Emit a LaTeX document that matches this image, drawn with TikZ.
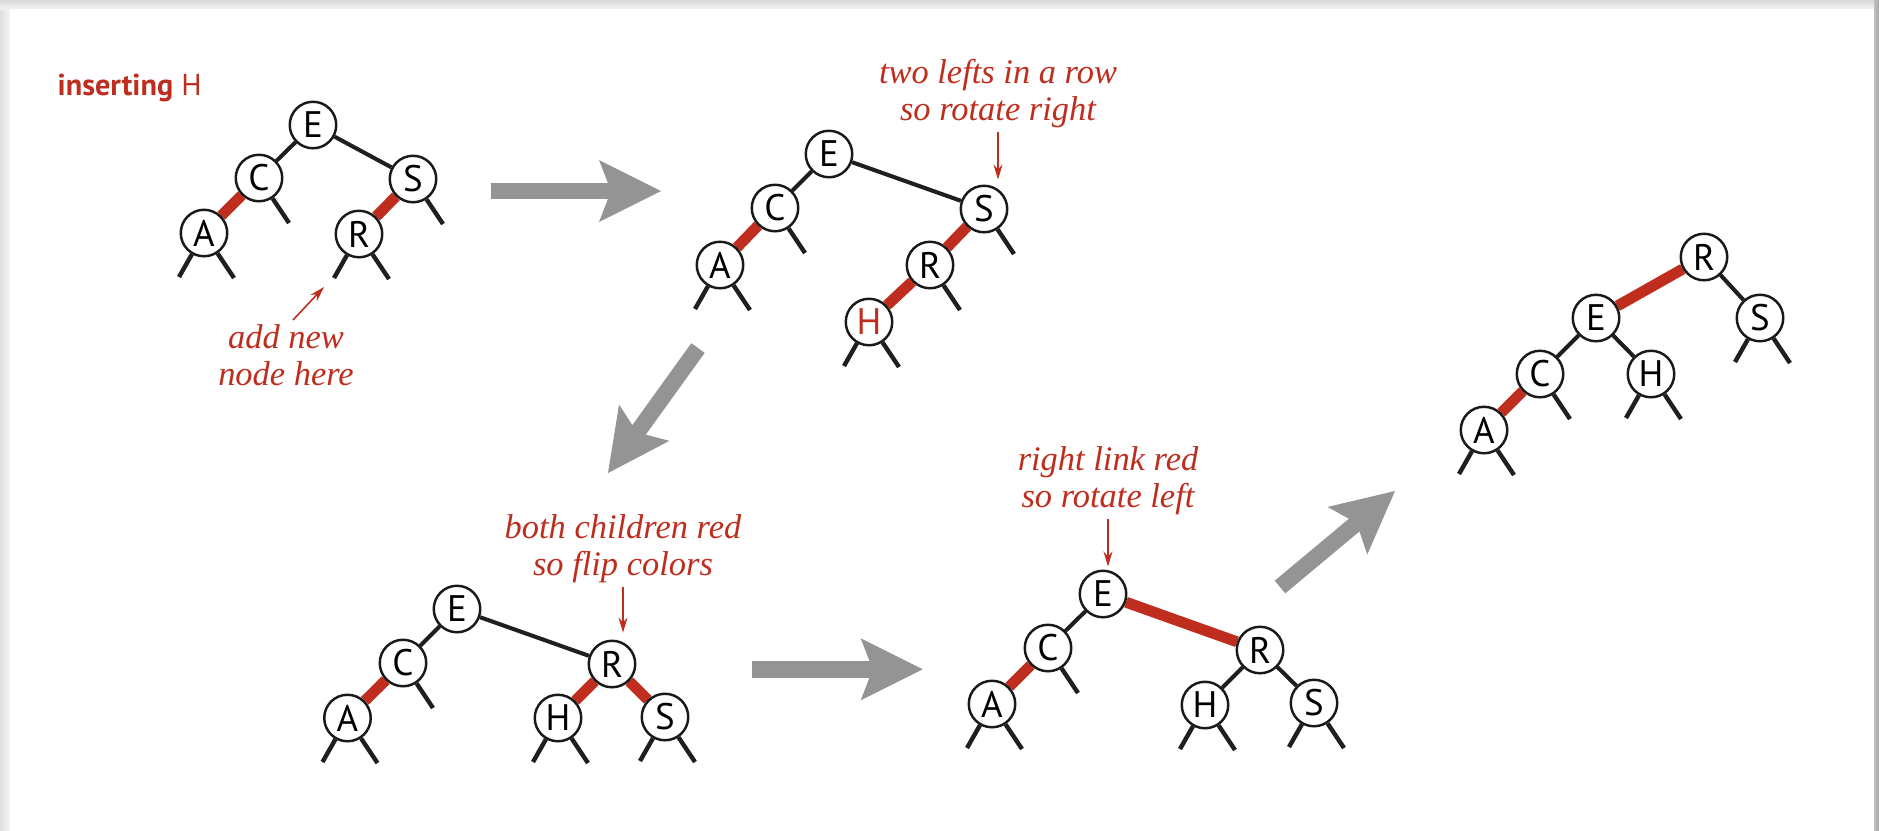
\documentclass[tikz,border=0pt]{standalone}
\usepackage{fontspec}
\usepackage{xcolor}
\usepackage{tikz}
\usetikzlibrary{arrows.meta,backgrounds}
\newfontfamily\keyfont{PT Sans}
\newfontfamily\notefont{Liberation Serif}
\definecolor{linkred}{RGB}{190,45,30}
\definecolor{arrowgray}{RGB}{148,148,148}

\begin{document}
\begin{tikzpicture}[
		treenode/.style={circle,draw=black!90,line width=0.7pt,fill=white,minimum size=0.465cm,inner sep=0pt,font=\keyfont\fontsize{10.5}{11}\selectfont},
		black link/.style={draw=black!88,line width=1.15pt},
		red link/.style={draw=linkred,line width=3.1pt},
		nil link/.style={draw=black!88,line width=1.25pt},
		note/.style={text=linkred,align=center,inner sep=1pt,font=\notefont\itshape\fontsize{9.8}{10.5}\selectfont},
		pointer/.style={draw=linkred,line width=0.45pt,-{Stealth[length=1.5mm,width=0.9mm]}},
		big arrow/.style={draw=arrowgray,line width=0.165cm,-{Stealth[length=0.62cm,width=0.62cm,inset=0.12cm,line width=0pt]}}
	]
	\useasboundingbox (0,0) rectangle (18.79,-8.30);

	\node[anchor=base west,inner sep=0pt,text=linkred,font=\keyfont\fontsize{8.6}{10}\selectfont] (title) at (0.57,-0.95) {\textbf{inserting} H};

	\node[treenode] (E1) at (3.13,-1.25) {E};
	\node[treenode] (C1) at (2.59,-1.78) {C};
	\node[treenode] (S1) at (4.13,-1.79) {S};
	\node[treenode] (A1) at (2.04,-2.33) {A};
	\node[treenode] (R1) at (3.59,-2.34) {R};

	\node[treenode] (E2) at (8.29,-1.54) {E};
	\node[treenode] (C2) at (7.75,-2.08) {C};
	\node[treenode] (A2) at (7.20,-2.65) {A};
	\node[treenode] (S2) at (9.84,-2.09) {S};
	\node[treenode] (R2) at (9.30,-2.65) {R};
	\node[treenode,text=linkred] (H2) at (8.69,-3.22) {H};

	\node[treenode] (E3) at (4.57,-6.09) {E};
	\node[treenode] (C3) at (4.03,-6.63) {C};
	\node[treenode] (A3) at (3.475,-7.18) {A};
	\node[treenode] (R3) at (6.12,-6.64) {R};
	\node[treenode] (H3) at (5.58,-7.18) {H};
	\node[treenode] (S3) at (6.65,-7.17) {S};

	\node[treenode] (E4) at (11.03,-5.94) {E};
	\node[treenode] (C4) at (10.48,-6.48) {C};
	\node[treenode] (A4) at (9.92,-7.04) {A};
	\node[treenode] (R4) at (12.60,-6.50) {R};
	\node[treenode] (H4) at (12.05,-7.05) {H};
	\node[treenode] (S4) at (13.14,-7.03) {S};

	\node[treenode] (R5) at (17.04,-2.57) {R};
	\node[treenode] (E5) at (15.96,-3.18) {E};
	\node[treenode] (S5) at (17.60,-3.18) {S};
	\node[treenode] (C5) at (15.40,-3.74) {C};
	\node[treenode] (H5) at (16.51,-3.74) {H};
	\node[treenode] (A5) at (14.84,-4.30) {A};

	\begin{scope}[on background layer]
		\fill[gray!14] (0,0) rectangle (18.79,-8.30);
		\shade[left color=gray!24,right color=gray!8] (0,0) rectangle (0.10,-8.30);
		\shade[top color=gray!30,bottom color=gray!10] (0,0) rectangle (18.79,-0.09);
		\shade[left color=gray!50,right color=gray!68] (18.74,0) rectangle (18.79,-8.30);
		\fill[white] (0.10,-0.09) rectangle (18.74,-8.30);

		\draw[black link] (E1) -- (C1);
		\draw[black link] (E1) -- (S1);
		\draw[red link] (C1) -- (A1);
		\draw[red link] (S1) -- (R1);

		\draw[black link] (E2) -- (C2);
		\draw[black link] (E2) -- (S2);
		\draw[red link] (C2) -- (A2);
		\draw[red link] (S2) -- (R2);
		\draw[red link] (R2) -- (H2);

		\draw[black link] (E3) -- (C3);
		\draw[black link] (E3) -- (R3);
		\draw[red link] (C3) -- (A3);
		\draw[red link] (R3) -- (H3);
		\draw[red link] (R3) -- (S3);

		\draw[black link] (E4) -- (C4);
		\draw[red link] (E4) -- (R4);
		\draw[red link] (C4) -- (A4);
		\draw[black link] (R4) -- (H4);
		\draw[black link] (R4) -- (S4);

		\draw[red link] (R5) -- (E5);
		\draw[black link] (R5) -- (S5);
		\draw[black link] (E5) -- (C5);
		\draw[black link] (E5) -- (H5);
		\draw[red link] (C5) -- (A5);
	\end{scope}

	\foreach \n in {A1,R1,A2,H2,A3,H3,S3,A4,H4,S4,A5,H5,S5}
		\draw[nil link] (\n) -- +(-0.25,-0.44);
	\foreach \n in {A1,C1,R1,S1,A2,C2,R2,S2,H2,A3,C3,H3,S3,A4,C4,H4,S4,A5,C5,H5,S5}
		\draw[nil link] (\n) -- +(0.30,-0.45);

	\node[note,anchor=base] (addnote) at (2.86,-3.85) {add new\\node here};
	\coordinate (newspot) at (3.24,-2.87);
	\draw[pointer] ([xshift=0.07cm]addnote.north) -- (newspot);

	\node[note,anchor=base] (rotright) at (9.98,-1.20) {two lefts in a row\\so rotate right};
	\draw[pointer,shorten >=0.05cm] (rotright) -- (rotright |- S2.north);

	\node[note,anchor=base] (flipnote) at (6.23,-5.75) {both children red\\so flip colors};
	\draw[pointer,shorten >=0.07cm] (flipnote) -- (flipnote |- R3.north);

	\node[note,anchor=base] (rotleft) at (11.08,-5.07) {right link red\\so rotate left};
	\draw[pointer,shorten >=0.03cm] (rotleft) -- (rotleft |- E4.north);

	\coordinate (g1s) at (4.905,-1.91);
	\coordinate (g1e) at (6.61,-1.91);
	\coordinate (g2s) at (6.98,-3.48);
	\coordinate (g2e) at (6.08,-4.73);
	\coordinate (g3s) at (7.517,-6.693);
	\coordinate (g3e) at (9.227,-6.693);
	\coordinate (g4s) at (12.80,-5.87);
	\coordinate (g4e) at (13.95,-4.91);
	\draw[big arrow] (g1s) -- (g1e);
	\draw[big arrow] (g2s) -- (g2e);
	\draw[big arrow] (g3s) -- (g3e);
	\draw[big arrow] (g4s) -- (g4e);
\end{tikzpicture}
\end{document}
